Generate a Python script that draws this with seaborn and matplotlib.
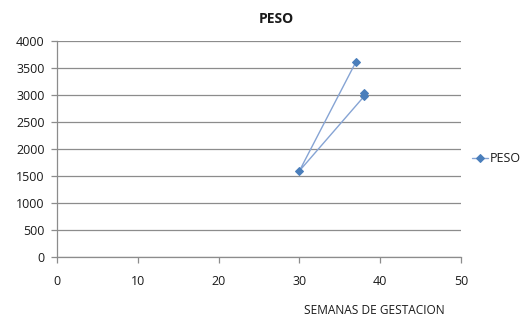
import matplotlib
matplotlib.use("Agg")
import matplotlib.pyplot as plt
import seaborn as sns
import pandas as pd

# Birth weight (g) against gestation weeks
semanas = [37, 30, 38, 38]
peso = [3620, 1600, 2980, 3050]
x_ticks = [0, 10, 20, 30, 40, 50]
y_ticks = [0, 500, 1000, 1500, 2000, 2500, 3000, 3500, 4000]

df = pd.DataFrame({"SEMANAS DE GESTACION": semanas, "PESO": peso})

sns.set_theme(style="white")
plt.rcParams["font.family"] = ["Open Sans", "DejaVu Sans"]

W, H = 532, 323
fig = plt.figure(figsize=(W / 100, H / 100), dpi=100)
ax = fig.add_axes([57 / W, 1 - 257.3 / H, (461 - 57) / W, (257.3 - 41.3) / H])

line_color = "#4a7ebb"
sns.lineplot(data=df, x="SEMANAS DE GESTACION", y="PESO", sort=False,
             estimator=None, ax=ax, color="#86a4d4", linewidth=1.0,
             marker="D", markersize=4, markerfacecolor=line_color,
             markeredgecolor=line_color, label="PESO", legend=False)

ax.set_xlim(0, 50)
ax.set_ylim(0, 4000)
ax.set_xticks(x_ticks)
ax.set_yticks(y_ticks)
ax.set_xticklabels([str(v) for v in x_ticks])
ax.set_yticklabels([str(v) for v in y_ticks])
ax.yaxis.grid(True, color="#8c8c8c", linewidth=0.9)
ax.xaxis.grid(False)
for side in ["top", "right"]:
    ax.spines[side].set_visible(False)
for side in ["left", "bottom"]:
    ax.spines[side].set_color("#8c8c8c")
    ax.spines[side].set_linewidth(0.9)
ax.tick_params(axis="both", which="major", direction="out", length=4,
               width=0.9, color="#8c8c8c", labelsize=9, labelcolor="#1a1a1a",
               left=True, bottom=True)
ax.tick_params(axis="y", pad=5)
ax.tick_params(axis="x", pad=8.5)
ax.set_xlabel("")
ax.set_ylabel("")

fig.text(276 / W, 1 - 19 / H, "PESO", ha="center", va="center",
         fontsize=10, fontweight="bold", color="#1a1a1a")
fig.text(374 / W, 1 - 311 / H, "SEMANAS DE GESTACION", ha="center",
         va="center", fontsize=8.6, color="#1a1a1a")

# Legend entry placed to the right of the plotting area
handles, labels = ax.get_legend_handles_labels()
leg = fig.legend(handles, labels, loc="center left",
                 bbox_to_anchor=(472 / W, 1 - 159 / H), frameon=False,
                 fontsize=9, handlelength=1.3, handletextpad=0.15,
                 borderaxespad=0, borderpad=0)
for t in leg.get_texts():
    t.set_color("#1a1a1a")

fig.savefig("out.png", dpi=100)
